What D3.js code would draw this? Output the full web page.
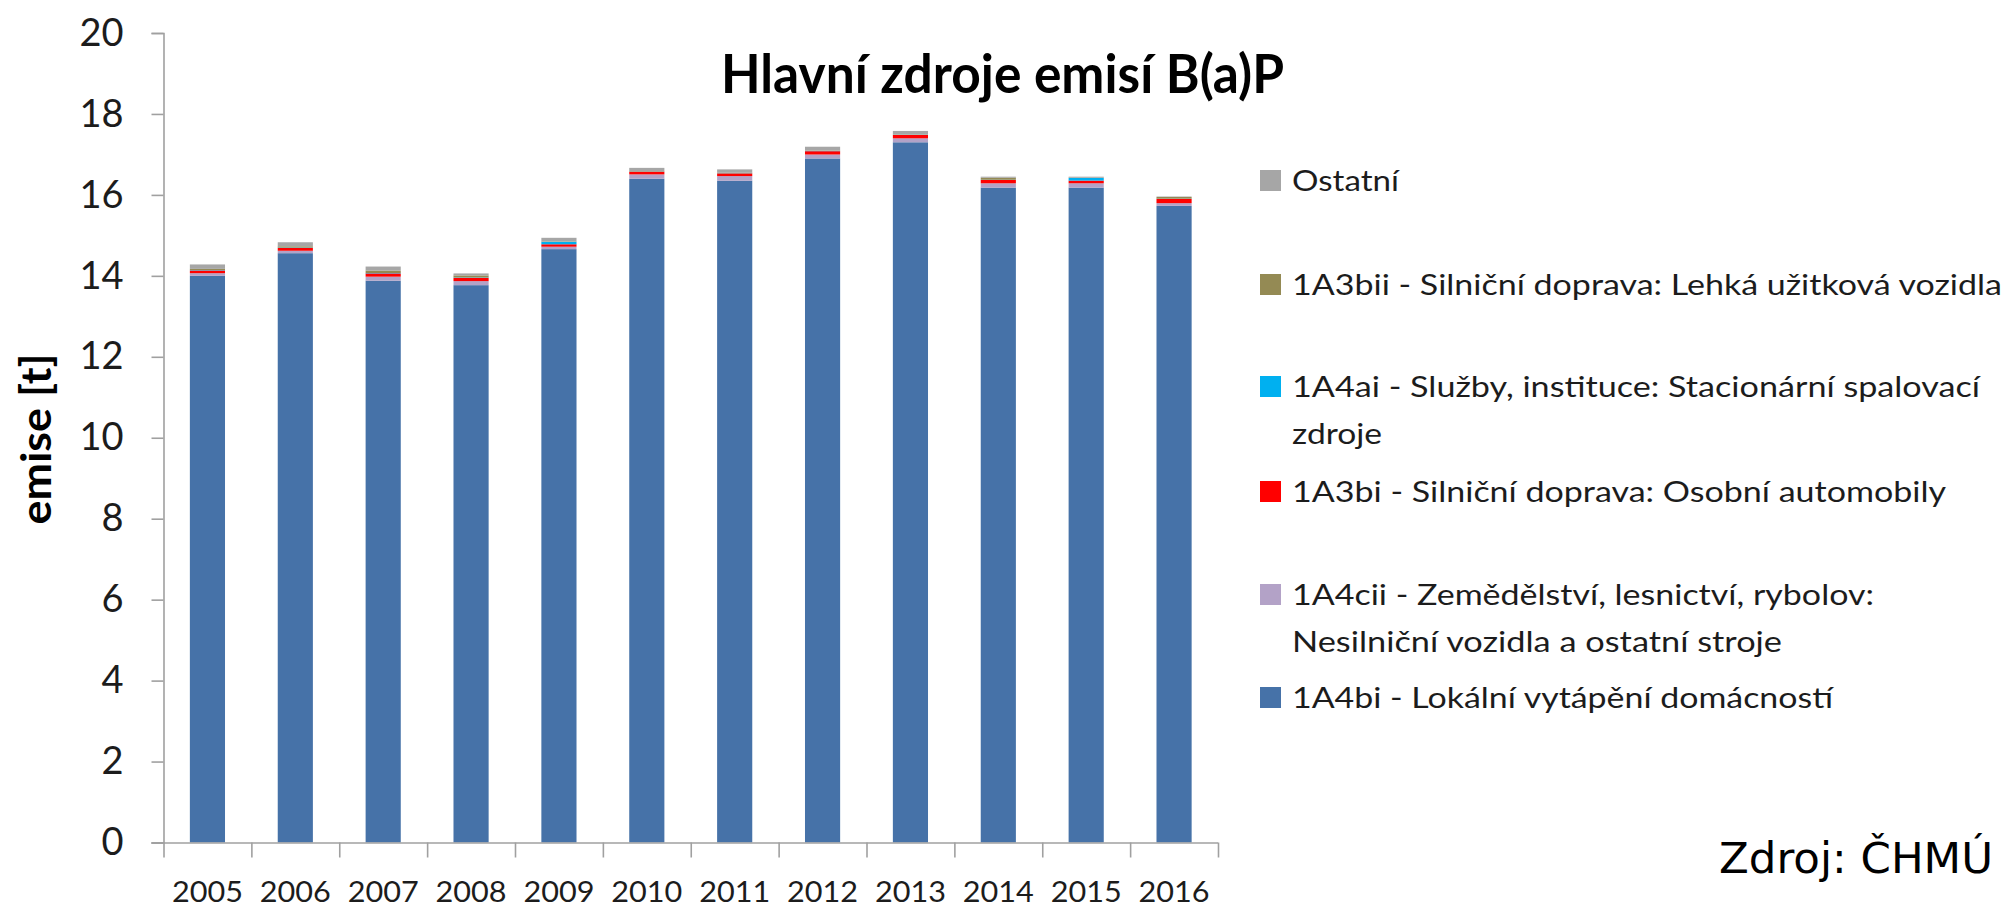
<!DOCTYPE html>
<html>
<head>
<meta charset="utf-8">
<script src="https://cdn.jsdelivr.net/npm/d3@7"></script>
<style>
html,body{margin:0;padding:0;background:#fff;}
svg{display:block;}
</style>
</head>
<body>
<svg id="chart" width="2013" height="909"></svg>
<script>
// ---- data ----
const years = ["2005","2006","2007","2008","2009","2010","2011","2012","2013","2014","2015","2016"];
const s1A4bi  = [14.00,14.56,13.88,13.77,14.66,16.40,16.35,16.90,17.30,16.18,16.18,15.73];
const s1A4cii = [0.066,0.060,0.100,0.100,0.060,0.107,0.115,0.098,0.098,0.107,0.107,0.066];
const s1A3bi  = [0.066,0.070,0.080,0.080,0.060,0.066,0.066,0.082,0.082,0.082,0.066,0.107];
const s1A4ai  = [0.010,0.010,0.010,0.010,0.060,0.005,0.005,0.005,0.005,0.005,0.066,0.005];
const s1A3bii = [0.030,0.030,0.060,0.050,0.010,0.010,0.010,0.010,0.010,0.050,0.005,0.040];
const sOstatni= [0.110,0.100,0.100,0.050,0.090,0.080,0.084,0.095,0.085,0.026,0.026,0.012];
const yTicks = [0,2,4,6,8,10,12,14,16,18,20];

const seriesKeys   = ["1A4bi","1A4cii","1A3bi","1A4ai","1A3bii","Ostatni"];
const seriesValues = [s1A4bi, s1A4cii, s1A3bi, s1A4ai, s1A3bii, sOstatni];
const seriesColors = ["#4672A8","#B3A2C7","#FF0000","#00B0F0","#948A54","#A6A6A6"];

// legend (top to bottom)
const legendKeys  = ["Ostatni","1A3bii","1A4ai","1A3bi","1A4cii","1A4bi"];
const legendLines = [
  ["Ostatní"],
  ["1A3bii - Silniční doprava: Lehká užitková vozidla"],
  ["1A4ai - Služby, instituce: Stacionární spalovací","zdroje"],
  ["1A3bi - Silniční doprava: Osobní automobily"],
  ["1A4cii - Zemědělství, lesnictví, rybolov:","Nesilniční vozidla a ostatní stroje"],
  ["1A4bi - Lokální vytápění domácností"]
];

// ---- layout ----
const L = {x0:163.5, x1:1218, y0:842.5, y1:33};
const legendBase = [191, 295, 397, 502, 605, 708];
const legendLineGap = 47;
const legendWidths = [[107],[710],[688,90],[654],[582,490],[541]];

const svg = d3.select("#chart");
const tableRows = years.map((yr,i)=>{
  const r = {year: yr};
  seriesKeys.forEach((k,j)=> r[k] = seriesValues[j][i]);
  return r;
});
const stack = d3.stack().keys(seriesKeys)(tableRows);
const color = d3.scaleOrdinal().domain(seriesKeys).range(seriesColors);

const x = d3.scaleBand().domain(years).range([L.x0, L.x1]).paddingInner(0.6).paddingOuter(0.3);
const xEdge = d3.scaleLinear().domain([0, years.length]).range([L.x0, L.x1]);
const y = d3.scaleLinear().domain([0,20]).range([L.y0, L.y1]);

// bars
svg.append("g").selectAll("g").data(stack).join("g")
  .attr("fill", d=>color(d.key))
  .selectAll("rect").data(d=>d).join("rect")
  .attr("x", d=>x(d.data.year))
  .attr("width", x.bandwidth())
  .attr("y", d=>y(d[1]))
  .attr("height", d=>Math.max(0, y(d[0]) - y(d[1])));

const axisColor = "#A0A0A0";
const textColor = "#1c1c1c";

// y axis
const gy = svg.append("g").attr("transform",`translate(${L.x0},0)`)
  .call(d3.axisLeft(y).tickValues(yTicks).tickSize(12).tickPadding(28).tickFormat(d3.format("d")));
gy.select(".domain").attr("stroke",axisColor).attr("stroke-width",1.6);
gy.selectAll(".tick line").attr("stroke",axisColor).attr("stroke-width",1.6);
gy.selectAll(".tick text").attr("fill",textColor).style("font-family","Lato").style("font-size","38px");

// x axis: boundary ticks
const gx = svg.append("g").attr("transform",`translate(0,${L.y0})`)
  .call(d3.axisBottom(xEdge).ticks(years.length).tickSize(15).tickFormat(""));
gx.select(".domain").attr("stroke",axisColor).attr("stroke-width",1.6)
  .attr("d", `M${L.x0-12},0.5H${L.x1}`);
gx.selectAll(".tick line").attr("stroke",axisColor).attr("stroke-width",1.6);

// x labels
const gxl = svg.append("g").attr("transform",`translate(0,${L.y0})`)
  .call(d3.axisBottom(x).tickSize(0).tickPadding(0));
gxl.select(".domain").remove();
gxl.selectAll(".tick text")
  .attr("y", 59).attr("dy", 0)
  .attr("fill",textColor)
  .style("font-family","Lato").style("font-size","28px")
  .attr("textLength", 71).attr("lengthAdjust","spacingAndGlyphs");

// y title
svg.append("text")
  .attr("transform","translate(51,439) rotate(-90)")
  .attr("text-anchor","middle")
  .style("font-family","Lato").style("font-weight","bold").style("font-size","42px")
  .attr("fill","#000")
  .attr("textLength",171).attr("lengthAdjust","spacingAndGlyphs")
  .text("emise [t]");

// chart title
svg.append("text")
  .attr("x",721).attr("y",93)
  .style("font-family","Lato").style("font-weight","bold").style("font-size","53px")
  .attr("fill","#000")
  .attr("textLength",563).attr("lengthAdjust","spacingAndGlyphs")
  .text("Hlavní zdroje emisí B(a)P");

// legend
const lg = svg.append("g");
legendKeys.forEach((k,i)=>{
  const base = legendBase[i];
  lg.append("rect").attr("x",1260).attr("y",base-21).attr("width",21).attr("height",21).attr("fill",color(k));
  legendLines[i].forEach((line,j)=>{
    lg.append("text")
      .attr("x",1292).attr("y",base + j*legendLineGap)
      .style("font-family","Lato").style("font-size","29px")
      .attr("fill",textColor)
      .attr("textLength",legendWidths[i][j]).attr("lengthAdjust","spacingAndGlyphs")
      .text(line);
  });
});

// source
svg.append("text")
  .attr("x",1719).attr("y",873)
  .style("font-family","DejaVu Sans").style("font-size","43.5px")
  .attr("fill","#000")
  .text("Zdroj: ČHMÚ");
</script>
</body>
</html>
